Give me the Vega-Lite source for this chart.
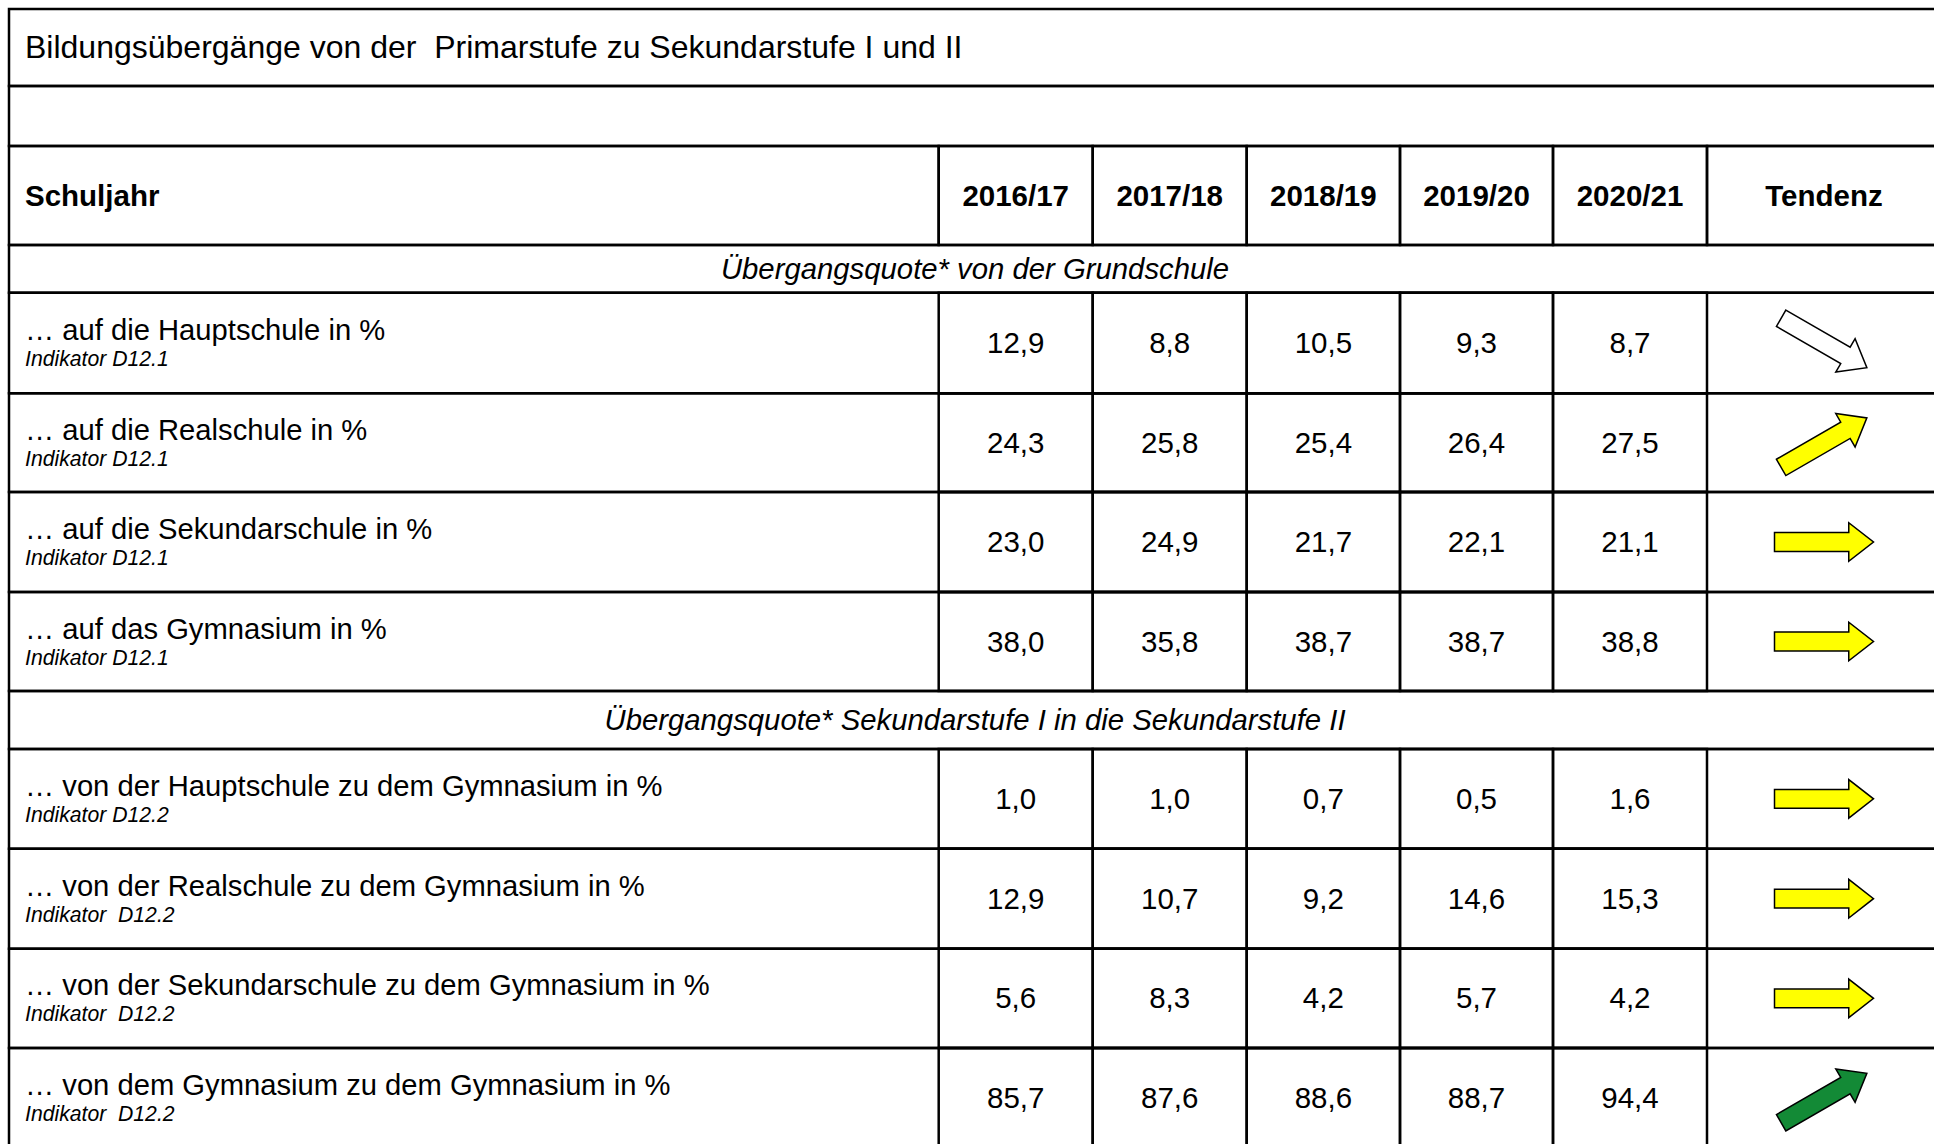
{
  "$schema": "https://vega.github.io/schema/vega-lite/v6.json",
  "width": 1934,
  "height": 1144,
  "autosize": "none",
  "padding": 0,
  "background": "white",
  "config": {
    "view": {"stroke": null},
    "font": "Liberation Sans",
    "locale": {"number": {"decimal": ",", "thousands": ".", "grouping": [3], "currency": ["", " €"]}}
  },
  "datasets": {
    "kopf": [
      {"zeile": 0, "text": "Bildungsübergänge von der \u00a0Primarstufe zu Sekundarstufe I und II"},
      {"zeile": 1, "text": ""}
    ],
    "spalten": [
      {"spalte": 0, "titel": "Schuljahr"},
      {"spalte": 1, "titel": "2016/17"},
      {"spalte": 2, "titel": "2017/18"},
      {"spalte": 3, "titel": "2018/19"},
      {"spalte": 4, "titel": "2019/20"},
      {"spalte": 5, "titel": "2020/21"},
      {"spalte": 6, "titel": "Tendenz"}
    ],
    "abschnitte": [
      {"zeile": 3, "titel": "Übergangsquote* von der Grundschule"},
      {"zeile": 8, "titel": "Übergangsquote* Sekundarstufe I in die Sekundarstufe II"}
    ],
    "tabelle": [
      {"zeile": 4, "bezeichnung": "… auf die Hauptschule in %", "indikator": "Indikator D12.1", "2016/17": 12.9, "2017/18": 8.8, "2018/19": 10.5, "2019/20": 9.3, "2020/21": 8.7, "tendenz": "fallend", "bewertung": "neutral"},
      {"zeile": 5, "bezeichnung": "… auf die Realschule in %", "indikator": "Indikator D12.1", "2016/17": 24.3, "2017/18": 25.8, "2018/19": 25.4, "2019/20": 26.4, "2020/21": 27.5, "tendenz": "steigend", "bewertung": "beobachten"},
      {"zeile": 6, "bezeichnung": "… auf die Sekundarschule in %", "indikator": "Indikator D12.1", "2016/17": 23.0, "2017/18": 24.9, "2018/19": 21.7, "2019/20": 22.1, "2020/21": 21.1, "tendenz": "gleich", "bewertung": "beobachten"},
      {"zeile": 7, "bezeichnung": "… auf das Gymnasium in %", "indikator": "Indikator D12.1", "2016/17": 38.0, "2017/18": 35.8, "2018/19": 38.7, "2019/20": 38.7, "2020/21": 38.8, "tendenz": "gleich", "bewertung": "beobachten"},
      {"zeile": 9, "bezeichnung": "… von der Hauptschule zu dem Gymnasium in %", "indikator": "Indikator D12.2", "2016/17": 1.0, "2017/18": 1.0, "2018/19": 0.7, "2019/20": 0.5, "2020/21": 1.6, "tendenz": "gleich", "bewertung": "beobachten"},
      {"zeile": 10, "bezeichnung": "… von der Realschule zu dem Gymnasium in %", "indikator": "Indikator \u00a0D12.2", "2016/17": 12.9, "2017/18": 10.7, "2018/19": 9.2, "2019/20": 14.6, "2020/21": 15.3, "tendenz": "gleich", "bewertung": "beobachten"},
      {"zeile": 11, "bezeichnung": "… von der Sekundarschule zu dem Gymnasium in %", "indikator": "Indikator \u00a0D12.2", "2016/17": 5.6, "2017/18": 8.3, "2018/19": 4.2, "2019/20": 5.7, "2020/21": 4.2, "tendenz": "gleich", "bewertung": "beobachten"},
      {"zeile": 12, "bezeichnung": "… von dem Gymnasium zu dem Gymnasium in %", "indikator": "Indikator \u00a0D12.2", "2016/17": 85.7, "2017/18": 87.6, "2018/19": 88.6, "2019/20": 88.7, "2020/21": 94.4, "tendenz": "steigend", "bewertung": "positiv"}
    ]
  },
  "resolve": {"scale": {"x": "independent"}},
  "layer": [
    {
      "layer": [
        {
          "data": {"name": "kopf"},
          "transform": [{"calculate": "datum.zeile + 1", "as": "zeile_bis"}],
          "mark": {"type": "rect", "fillOpacity": 0, "stroke": "black", "strokeWidth": 2.5},
          "encoding": {
            "x": {"datum": 0, "type": "quantitative", "axis": null, "scale": {"domain": [0, 1, 2, 3, 4, 5, 6, 7], "range": [9, 938.7, 1092.7, 1246.7, 1400, 1553, 1707, 1941], "nice": false, "zero": false}},
            "x2": {"datum": 7},
            "y": {"field": "zeile", "type": "quantitative", "axis": null, "scale": {"domain": [0, 1, 2, 3, 4, 5, 6, 7, 8, 9, 10, 11, 12, 13], "range": [9, 86, 146, 245, 292.7, 393.3, 492, 592, 691, 749, 848.7, 948.7, 1048, 1148], "nice": false, "zero": false}},
            "y2": {"field": "zeile_bis"}
          }
        },
        {
          "data": {"name": "kopf"},
          "transform": [{"calculate": "datum.zeile + 0.5", "as": "mitte"}],
          "mark": {"type": "text", "align": "left", "baseline": "alphabetic", "dx": 16, "dy": 10, "fontSize": 32, "color": "black"},
          "encoding": {
            "x": {"datum": 0, "type": "quantitative"},
            "y": {"field": "mitte", "type": "quantitative"},
            "text": {"field": "text"}
          }
        },
        {
          "data": {"name": "spalten"},
          "transform": [{"calculate": "datum.spalte + 1", "as": "spalte_bis"}],
          "mark": {"type": "rect", "fillOpacity": 0, "stroke": "black", "strokeWidth": 2.5},
          "encoding": {
            "x": {"field": "spalte", "type": "quantitative"},
            "x2": {"field": "spalte_bis"},
            "y": {"datum": 2, "type": "quantitative"},
            "y2": {"datum": 3}
          }
        },
        {
          "data": {"name": "spalten"},
          "transform": [{"filter": "datum.spalte == 0"}],
          "mark": {"type": "text", "align": "left", "baseline": "alphabetic", "dx": 16, "dy": 10, "fontSize": 29.5, "fontWeight": "bold", "color": "black"},
          "encoding": {
            "x": {"field": "spalte", "type": "quantitative"},
            "y": {"datum": 2.5, "type": "quantitative"},
            "text": {"field": "titel"}
          }
        },
        {
          "data": {"name": "spalten"},
          "transform": [{"filter": "datum.spalte > 0"}, {"calculate": "datum.spalte + 0.5", "as": "mitte"}],
          "mark": {"type": "text", "align": "center", "baseline": "alphabetic", "dy": 10, "fontSize": 29.5, "fontWeight": "bold", "color": "black"},
          "encoding": {
            "x": {"field": "mitte", "type": "quantitative"},
            "y": {"datum": 2.5, "type": "quantitative"},
            "text": {"field": "titel"}
          }
        },
        {
          "data": {"name": "abschnitte"},
          "transform": [{"calculate": "datum.zeile + 1", "as": "zeile_bis"}],
          "mark": {"type": "rect", "fillOpacity": 0, "stroke": "black", "strokeWidth": 2.5},
          "encoding": {
            "x": {"datum": 0, "type": "quantitative"},
            "x2": {"datum": 7},
            "y": {"field": "zeile", "type": "quantitative"},
            "y2": {"field": "zeile_bis"}
          }
        },
        {
          "data": {"name": "tabelle"},
          "transform": [{"calculate": "datum.zeile + 1", "as": "zeile_bis"}],
          "mark": {"type": "rect", "fillOpacity": 0, "stroke": "black", "strokeWidth": 2.5},
          "encoding": {
            "x": {"datum": 0, "type": "quantitative"},
            "x2": {"datum": 7},
            "y": {"field": "zeile", "type": "quantitative"},
            "y2": {"field": "zeile_bis"}
          }
        },
        {
          "data": {"name": "tabelle"},
          "transform": [
            {"fold": ["2016/17", "2017/18", "2018/19", "2019/20", "2020/21"], "as": ["jahr", "wert"]},
            {"lookup": "jahr", "from": {"data": {"name": "spalten"}, "key": "titel", "fields": ["spalte"]}},
            {"calculate": "datum.spalte + 1", "as": "spalte_bis"},
            {"calculate": "datum.zeile + 1", "as": "zeile_bis"}
          ],
          "mark": {"type": "rect", "fillOpacity": 0, "stroke": "black", "strokeWidth": 2.5},
          "encoding": {
            "x": {"field": "spalte", "type": "quantitative"},
            "x2": {"field": "spalte_bis"},
            "y": {"field": "zeile", "type": "quantitative"},
            "y2": {"field": "zeile_bis"}
          }
        },
        {
          "data": {"name": "tabelle"},
          "transform": [
            {"fold": ["2016/17", "2017/18", "2018/19", "2019/20", "2020/21"], "as": ["jahr", "wert"]},
            {"lookup": "jahr", "from": {"data": {"name": "spalten"}, "key": "titel", "fields": ["spalte"]}},
            {"calculate": "datum.spalte + 0.5", "as": "mitte_x"},
            {"calculate": "datum.zeile + 0.5", "as": "mitte_y"}
          ],
          "mark": {"type": "text", "align": "center", "baseline": "alphabetic", "dy": 10, "fontSize": 29.5, "color": "black"},
          "encoding": {
            "x": {"field": "mitte_x", "type": "quantitative"},
            "y": {"field": "mitte_y", "type": "quantitative"},
            "text": {"field": "wert", "type": "quantitative", "format": ".1f"}
          }
        },
        {
          "data": {"name": "tabelle"},
          "transform": [{"calculate": "datum.zeile + 0.5", "as": "mitte_y"}],
          "mark": {"type": "text", "align": "left", "baseline": "alphabetic", "dx": 16, "dy": -3, "fontSize": 29.2, "color": "black"},
          "encoding": {
            "x": {"datum": 0, "type": "quantitative"},
            "y": {"field": "mitte_y", "type": "quantitative"},
            "text": {"field": "bezeichnung"}
          }
        },
        {
          "data": {"name": "tabelle"},
          "transform": [{"calculate": "datum.zeile + 0.5", "as": "mitte_y"}],
          "mark": {"type": "text", "align": "left", "baseline": "alphabetic", "dx": 16, "dy": 23, "fontSize": 21.2, "fontStyle": "italic", "color": "black"},
          "encoding": {
            "x": {"datum": 0, "type": "quantitative"},
            "y": {"field": "mitte_y", "type": "quantitative"},
            "text": {"field": "indikator"}
          }
        },
        {
          "data": {"name": "tabelle"},
          "transform": [{"filter": "datum.tendenz == 'fallend'"}, {"calculate": "datum.zeile + 0.5", "as": "mitte_y"}],
          "mark": {"type": "point", "shape": "M-1,-0.19L0.5,-0.19L0.5,-0.39L1,0L0.5,0.39L0.5,0.19L-1,0.19Z", "size": 9801, "angle": 30, "filled": true, "stroke": "black", "strokeWidth": 1.5, "opacity": 1, "fillOpacity": 1, "dy": 2},
          "encoding": {
            "x": {"datum": 6.5, "type": "quantitative"},
            "y": {"field": "mitte_y", "type": "quantitative"},
            "fill": {"field": "bewertung", "type": "nominal", "legend": null, "scale": {"domain": ["neutral", "beobachten", "positiv"], "range": ["#ffffff", "#ffff00", "#138a36"]}}
          }
        },
        {
          "data": {"name": "tabelle"},
          "transform": [{"filter": "datum.tendenz == 'gleich'"}, {"calculate": "datum.zeile + 0.5", "as": "mitte_y"}],
          "mark": {"type": "point", "shape": "M-1,-0.19L0.5,-0.19L0.5,-0.39L1,0L0.5,0.39L0.5,0.19L-1,0.19Z", "size": 9801, "angle": 0, "filled": true, "stroke": "black", "strokeWidth": 1.5, "opacity": 1, "fillOpacity": 1, "dy": 2},
          "encoding": {
            "x": {"datum": 6.5, "type": "quantitative"},
            "y": {"field": "mitte_y", "type": "quantitative"},
            "fill": {"field": "bewertung", "type": "nominal", "legend": null}
          }
        },
        {
          "data": {"name": "tabelle"},
          "transform": [{"filter": "datum.tendenz == 'steigend'"}, {"calculate": "datum.zeile + 0.5", "as": "mitte_y"}],
          "mark": {"type": "point", "shape": "M-1,-0.19L0.5,-0.19L0.5,-0.39L1,0L0.5,0.39L0.5,0.19L-1,0.19Z", "size": 9801, "angle": 330, "filled": true, "stroke": "black", "strokeWidth": 1.5, "opacity": 1, "fillOpacity": 1, "dy": 2},
          "encoding": {
            "x": {"datum": 6.5, "type": "quantitative"},
            "y": {"field": "mitte_y", "type": "quantitative"},
            "fill": {"field": "bewertung", "type": "nominal", "legend": null}
          }
        }
      ]
    },
    {
      "data": {"name": "abschnitte"},
      "transform": [{"calculate": "datum.zeile + 0.5", "as": "mitte_y"}],
      "mark": {"type": "text", "align": "center", "baseline": "alphabetic", "dy": 10, "fontSize": 29.3, "fontStyle": "italic", "color": "black"},
      "encoding": {
        "x": {"datum": 0.5, "type": "quantitative", "axis": null, "scale": {"domain": [0, 1], "range": [9, 1941], "nice": false, "zero": false}},
        "y": {"field": "mitte_y", "type": "quantitative"},
        "text": {"field": "titel"}
      }
    }
  ]
}
